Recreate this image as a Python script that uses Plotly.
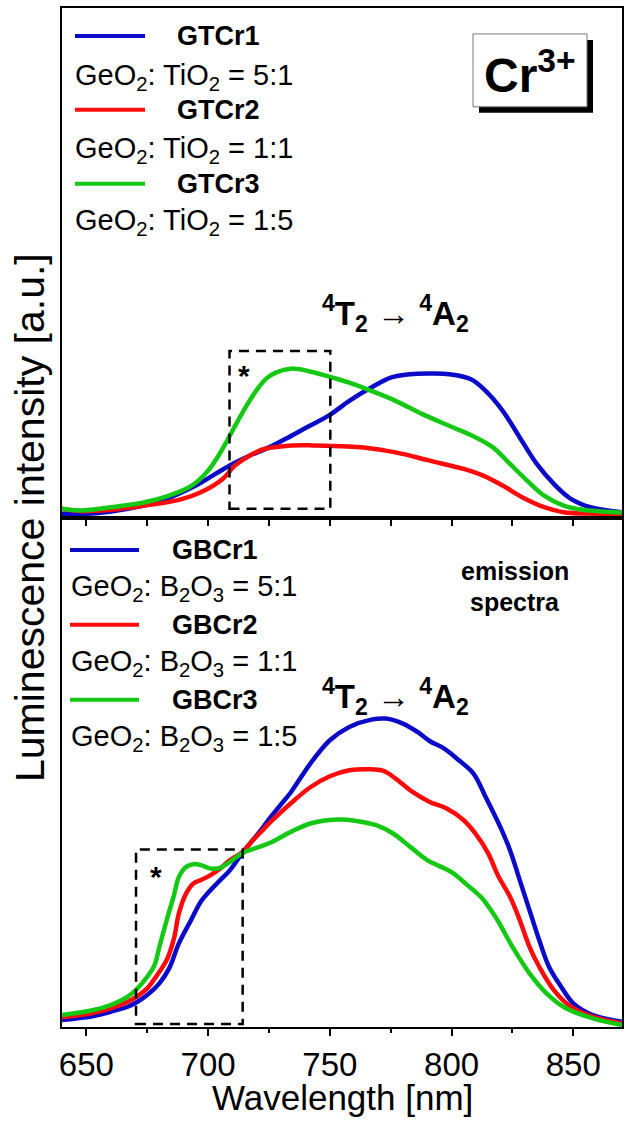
import plotly.graph_objects as go
from plotly.subplots import make_subplots

# ---------------- data: Cr3+ emission spectra (a.u.) ----------------
# Ge-Ti glasses (upper panel)
gtcr1_wl = [640, 654, 667, 681, 695, 703, 710, 717, 725, 733, 741, 750, 758, 767, 775,
            783, 791, 799, 808, 814, 821, 828, 835, 842, 849, 857, 870]
gtcr1_int = [3.7, 4.3, 8.7, 17, 32, 43.7, 53.7, 62, 70.3, 80.3, 91, 103, 117, 130.3, 140.3,
             143.7, 144.3, 143.7, 138.7, 127, 107, 80.3, 53.7, 33.7, 18.7, 10.3, 5.3]

gtcr2_wl = [640, 648, 660, 674, 688, 697, 706, 711, 717, 723, 733, 743, 755, 764, 777,
            791, 805, 813, 821, 829, 838, 846, 860, 870]
gtcr2_int = [8.7, 6.3, 7.7, 12, 17.7, 25.3, 38.7, 52, 62, 68.7, 72, 72.3, 71.5, 70.3, 65.3,
             57, 48.7, 42, 32, 20.3, 10.3, 5.3, 3.7, 3]

gtcr3_wl = [640, 648, 660, 674, 684, 692, 696, 700, 704, 708, 712, 716, 720, 724, 728,
            734, 741, 750, 758, 767, 777, 788, 799, 810, 817, 824, 831, 838, 846, 854, 870]
gtcr3_int = [8.7, 7, 10.3, 15.3, 22, 30, 37, 47, 61, 78, 96, 113, 128, 139.5, 145.5,
             149.3, 147, 141, 135.3, 127, 117, 103.7, 92, 80.3, 70.3, 53.7, 37, 22, 12, 7.7, 5]

# Ge-B glasses (lower panel)
gbcr1_wl = [640, 653, 660, 667, 671, 675, 680, 684, 688, 693, 697, 701, 705, 709, 714,
            718, 722, 726, 730, 734, 742, 750, 758, 767, 773, 780, 786, 791, 797, 803,
            809, 814, 820, 824, 828, 832, 836, 840, 845, 850, 858, 870]
gbcr1_int = [7, 11, 15.3, 20.3, 25.3, 32, 43.7, 58.7, 83.7, 107, 125.3, 137, 147, 157, 174,
             186, 198, 211, 223, 235, 263.7, 287, 300.3, 307.7, 308.7, 303.7, 295.3, 286.3, 278.7, 267,
             253.7, 230.3, 200.3, 177, 147, 117, 87, 60.3, 40.3, 23.7, 12, 5.3]

gbcr2_wl = [640, 653, 660, 667, 671, 675, 680, 683, 686, 688, 691, 694, 697, 701, 705,
            709, 714, 718, 722, 726, 734, 742, 750, 758, 766, 772, 777, 784, 791, 798,
            805, 810, 815, 819, 824, 828, 832, 836, 842, 849, 858, 870]
gbcr2_int = [9.7, 14.3, 18.7, 25.3, 31, 38.7, 55.3, 67, 88.7, 113.7, 133.7, 143.7, 147, 152, 158.7,
             167, 175, 186, 196, 206, 224, 240, 251, 257, 258, 256.3, 248.7, 235.3, 225.3, 218.7,
             207, 193, 174, 152, 130.3, 107, 80.3, 60.3, 37, 20.3, 10.3, 3.7]

gbcr3_wl = [640, 653, 660, 667, 671, 675, 678, 680, 683, 686, 688, 691, 694, 697, 701,
            705, 709, 714, 721, 726, 734, 742, 753, 761, 769, 776, 783, 790, 800, 806,
            812, 818, 825, 832, 839, 847, 858, 870]
gbcr3_int = [12, 17, 22, 30.3, 38.7, 50.3, 62, 80.3, 107, 132, 150.3, 160.3, 163, 162, 158.7,
             159.3, 165.3, 174, 180.3, 185, 195.3, 203.7, 207.7, 206.3, 202, 193.7, 180.3, 167, 155, 143,
             130.3, 110.3, 80.3, 53.7, 33.7, 18.7, 8.7, 2]

# highlighted (*) regions: wavelength span and intensity span
gt_box_wl = [708.8, 750.2]
gt_box_int = [8.7, 167]
gb_box_wl = [670.4, 714.2]
gb_box_int = [3, 177.7]

upper_names = ["GTCr1", "GTCr2", "GTCr3"]
lower_names = ["GBCr1", "GBCr2", "GBCr3"]
upper_ratios = ["GeO<sub>2</sub>: TiO<sub>2</sub> = 5:1",
                "GeO<sub>2</sub>: TiO<sub>2</sub> = 1:1",
                "GeO<sub>2</sub>: TiO<sub>2</sub> = 1:5"]
lower_ratios = ["GeO<sub>2</sub>: B<sub>2</sub>O<sub>3</sub> = 5:1",
                "GeO<sub>2</sub>: B<sub>2</sub>O<sub>3</sub> = 1:1",
                "GeO<sub>2</sub>: B<sub>2</sub>O<sub>3</sub> = 1:5"]
transition = "<sup>4</sup>T<sub>2</sub> \u2192 <sup>4</sup>A<sub>2</sub>"

x_ticks = [650, 700, 750, 800, 850]
x_minor = [675, 725, 775, 825]
x_range = [640, 870]

# ---------------- styling ----------------
COLORS = ["#0a0ac8", "#ff0a0a", "#14c814"]
FONT = "Liberation Sans, Arial, sans-serif"
W, H = 630, 1133
L, R, T, B = 62, 622, 6, 1027          # plot area in pixels


def px(x, y):
    """Pixel position -> paper coordinates."""
    return (x - L) / (R - L), (B - y) / (B - T)


fig = make_subplots(rows=2, cols=1, shared_xaxes=True, vertical_spacing=0)

upper = [(gtcr1_wl, gtcr1_int), (gtcr2_wl, gtcr2_int), (gtcr3_wl, gtcr3_int)]
lower = [(gbcr1_wl, gbcr1_int), (gbcr2_wl, gbcr2_int), (gbcr3_wl, gbcr3_int)]
for i, (wl, it) in enumerate(upper):
    fig.add_trace(go.Scatter(x=wl, y=it, mode="lines", name=upper_names[i],
                             line=dict(color=COLORS[i], width=4.5, shape="spline", smoothing=1.0),
                             showlegend=False), row=1, col=1)
for i, (wl, it) in enumerate(lower):
    fig.add_trace(go.Scatter(x=wl, y=it, mode="lines", name=lower_names[i],
                             line=dict(color=COLORS[i], width=4.5, shape="spline", smoothing=1.0),
                             showlegend=False), row=2, col=1)

axis_common = dict(showline=True, linecolor="black", linewidth=2, mirror=True,
                   showgrid=False, zeroline=False)
fig.update_xaxes(range=x_range, tickvals=x_ticks, ticks="outside", tickcolor="black",
                 tickwidth=1.5, **axis_common)
fig.update_xaxes(row=1, col=1, ticklen=6, showticklabels=False,
                 minor=dict(tickvals=x_minor, ticks="outside", ticklen=6,
                            tickwidth=1.5, tickcolor="black"))
fig.update_xaxes(row=2, col=1, ticklen=7, showticklabels=True,
                 tickfont=dict(family=FONT, size=33, color="black"),
                 minor=dict(tickvals=x_minor, ticks="outside", ticklen=4,
                            tickwidth=1.5, tickcolor="black"))
fig.update_yaxes(ticks="", showticklabels=False, **axis_common)
fig.update_yaxes(row=1, col=1, range=[0, 511])
fig.update_yaxes(row=2, col=1, range=[0, 510])

shapes = []
annotations = []


def text(x, y, s, size, bold=False, xanchor="left", yanchor="middle", angle=0):
    px_x, px_y = px(x, y)
    annotations.append(dict(x=px_x, y=px_y, xref="paper", yref="paper", text=f"<b>{s}</b>" if bold else s,
                            showarrow=False, xanchor=xanchor, yanchor=yanchor, textangle=angle,
                            font=dict(family=FONT, size=size, color="black")))


# legend blocks
def legend_block(x_line, x_name, x_ratio, y_rows, names, ratios):
    for i in range(3):
        y_line, y_ratio = y_rows[i]
        x0, y0 = px(x_line[0], y_line)
        x1, _ = px(x_line[1], y_line)
        shapes.append(dict(type="line", xref="paper", yref="paper", x0=x0, x1=x1, y0=y0, y1=y0,
                           line=dict(color=COLORS[i], width=4)))
        text(x_name, y_line, names[i], 27, bold=True)
        text(x_ratio, y_ratio, ratios[i], 29)


legend_block((75, 145), 175, 73, [(34, 75), (108, 148), (182, 220)], upper_names, upper_ratios)
legend_block((70, 139), 170, 69, [(549, 587), (624, 662), (699, 737)], lower_names, lower_ratios)

# Cr3+ label box with drop shadow
sx0, sy0 = px(479, 38)
sx1, sy1 = px(593, 111)
shapes.append(dict(type="rect", xref="paper", yref="paper", x0=sx0, x1=sx1, y0=sy1, y1=sy0,
                   fillcolor="black", line=dict(width=0)))
bx0, by0 = px(473, 32)
bx1, by1 = px(587, 105)
shapes.append(dict(type="rect", xref="paper", yref="paper", x0=bx0, x1=bx1, y0=by1, y1=by0,
                   fillcolor="white", line=dict(color="#777777", width=1)))
text(530, 70, "Cr<sup>3+</sup>", 48, bold=True, xanchor="center")

# transition labels, emission note, asterisks
text(395, 312, transition, 33, bold=True, xanchor="center")
text(395, 696, transition, 33, bold=True, xanchor="center")
text(515, 570, "emission", 25, bold=True, xanchor="center")
text(515, 601, "spectra", 25, bold=True, xanchor="center")
text(244, 374, "*", 30, bold=True, xanchor="center")
text(156, 876, "*", 30, bold=True, xanchor="center")

# dashed highlight boxes
shapes.append(dict(type="rect", xref="x", yref="y", x0=gt_box_wl[0], x1=gt_box_wl[1],
                   y0=gt_box_int[0], y1=gt_box_int[1], line=dict(color="black", width=2.5, dash="10px,7px")))
shapes.append(dict(type="rect", xref="x2", yref="y2", x0=gb_box_wl[0], x1=gb_box_wl[1],
                   y0=gb_box_int[0], y1=gb_box_int[1], line=dict(color="black", width=2.5, dash="10px,7px")))

# axis titles
text(30, 517, "Luminescence intensity [a.u.]", 41, xanchor="center", angle=-90)
text(342, 1098, "Wavelength [nm]", 35, xanchor="center")

fig.update_layout(width=W, height=H, margin=dict(l=L, r=W - R, t=T, b=H - B),
                  paper_bgcolor="white", plot_bgcolor="white",
                  shapes=shapes, annotations=annotations, showlegend=False)

fig.write_html("out.html")
